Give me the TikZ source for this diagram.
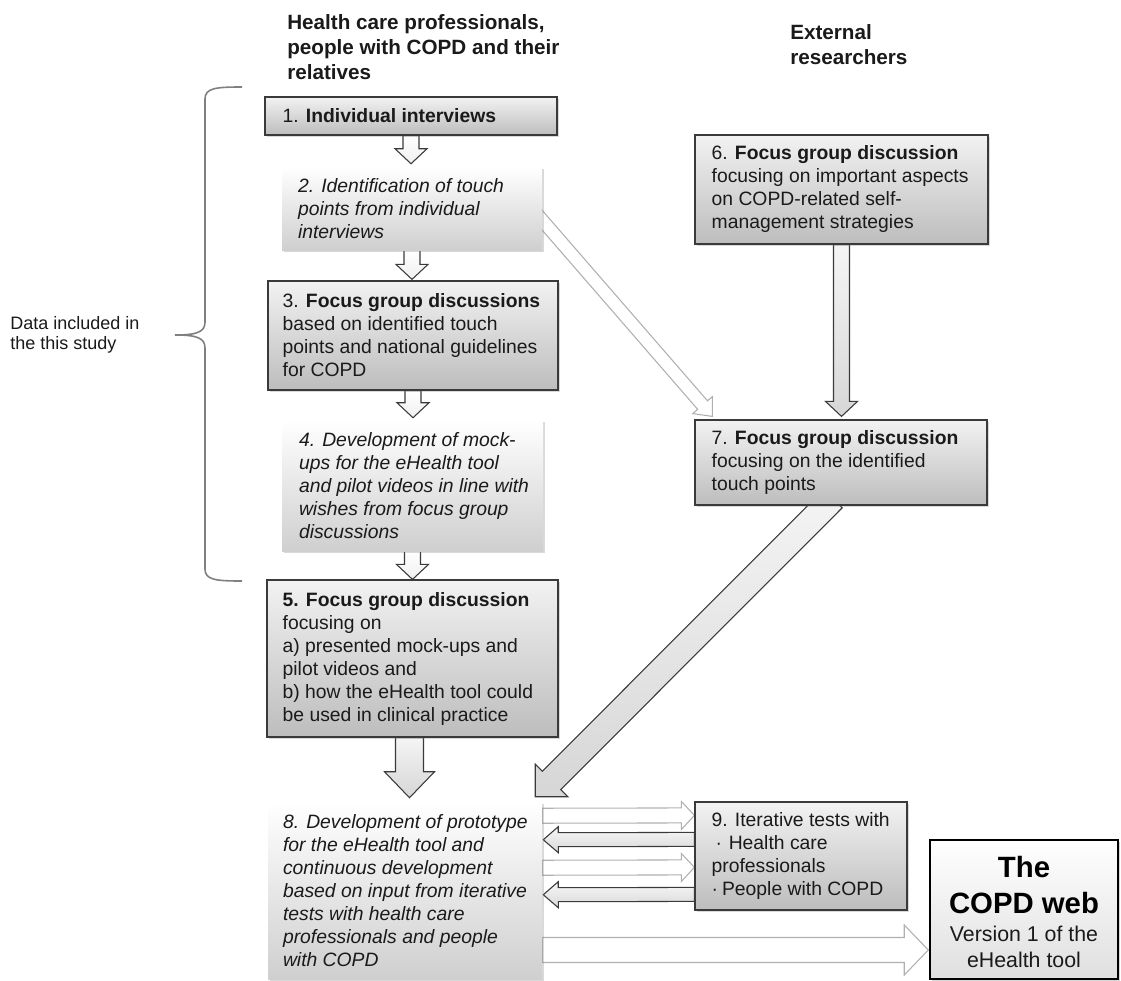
\documentclass[tikz,border=0pt]{standalone}
\usepackage{fontspec}
\setmainfont{Liberation Sans}
\usetikzlibrary{calc,shadows,backgrounds}
\definecolor{bxtop}{HTML}{F2F2F2}
\definecolor{bxbot}{HTML}{BDBDBD}
\definecolor{itbot}{HTML}{CFCFCF}
\definecolor{edgec}{HTML}{3A3A3A}
\definecolor{txtc}{HTML}{1A1A1A}
\definecolor{bracec}{HTML}{808080}
\definecolor{lightedge}{HTML}{B0B0B0}

\newcommand{\blockarrow}[6]{%
  \path[#1] let \p1=(#2), \p2=(#3),
    \n1={atan2(\y2-\y1,\x2-\x1)},
    \n2={veclen(\x2-\x1,\y2-\y1)},
    \n3={\n2-#6*0.75pt},
    \n4={#4*0.375pt},
    \n5={#5*0.375pt} in
    ($(\p1)+(\n1+90:\n4)$)
    -- ($(\p1)+(\n1+90:\n4)+(\n1:\n3)$)
    -- ($(\p1)+(\n1+90:\n5)+(\n1:\n3)$)
    -- (\p2)
    -- ($(\p1)+(\n1-90:\n5)+(\n1:\n3)$)
    -- ($(\p1)+(\n1-90:\n4)+(\n1:\n3)$)
    -- ($(\p1)+(\n1-90:\n4)$)
    -- cycle;
}

\begin{document}
\begin{tikzpicture}[x=0.75pt,y=-0.75pt,
  boxd/.style={draw=edgec, line width=0.9pt, top color=bxtop, bottom color=bxbot,
    drop shadow={shadow xshift=1.5pt, shadow yshift=-1.5pt, opacity=0.3}, inner sep=0pt},
  boxi/.style={top color=white, bottom color=itbot,
    drop shadow={shadow xshift=1.5pt, shadow yshift=-1.5pt, opacity=0.3}, inner sep=0pt},
  boxw/.style={draw=black, line width=1.1pt, top color=white, bottom color=gray!25,
    drop shadow={shadow xshift=1.5pt, shadow yshift=-1.5pt, opacity=0.3}, inner sep=0pt},
  txt/.style={align=left, inner sep=0pt, text=txtc, anchor=west, font=\fontsize{14.5}{17.25}\selectfont},
  itxt/.style={txt, font=\fontsize{14.5}{17.25}\selectfont\itshape},
  head/.style={align=left, inner sep=0pt, text=txtc, anchor=north west, font=\fontsize{15.5}{18.75}\selectfont\bfseries},
  sarr/.style={draw=edgec, line width=0.8pt, top color=white, bottom color=gray!12},
  marr/.style={draw=edgec, line width=0.8pt, top color=gray!8, bottom color=gray!32},
  darr/.style={draw=edgec, line width=0.8pt, top color=gray!6, bottom color=gray!30},
  larr/.style={draw=lightedge, line width=0.8pt, fill=white}
]
\useasboundingbox (0,0) rectangle (1121,981);

% headers
\node[head] (h1) at (287,14) {Health care professionals,\\people with COPD and their\\relatives};
\node[head] (h2) at (790,24) {External\\researchers};

% boxes
\node[boxd, minimum width=219pt,    minimum height=28.5pt]  (b1) at (411,116) {};
\node[boxi, minimum width=195pt,    minimum height=62.25pt] (b2) at (412,208.5) {};
\node[boxd, minimum width=217.5pt,  minimum height=81.75pt] (b3) at (413,335.5) {};
\node[boxi, minimum width=195.75pt, minimum height=98.25pt] (b4) at (412.5,485.5) {};
\node[boxd, minimum width=218.25pt, minimum height=117.75pt] (b5) at (412.5,658.5) {};
\node[boxd, minimum width=219.75pt, minimum height=81.75pt] (b6) at (841.5,189.5) {};
\node[boxd, minimum width=219pt,    minimum height=63.75pt] (b7) at (841,462.5) {};
\node[boxi, minimum width=205.5pt,  minimum height=132.75pt] (b8) at (405,890.5) {};
\node[boxd, minimum width=159pt,    minimum height=81pt]    (b9) at (801,856) {};
\node[boxw, minimum width=141pt,    minimum height=104.25pt] (web) at (1024,909.5) {};

% texts
\node[txt]  (t1) at ($(b1.west)+(18,0)$) {1. \textbf{Individual interviews}};
\node[itxt] (t2) at ($(b2.west)+(16,0)$) {2. Identification of touch\\points from individual\\interviews};
\node[txt]  (t3) at ($(b3.west)+(15,0)$) {3. \textbf{Focus group discussions}\\based on identified touch\\points and national guidelines\\for COPD};
\node[itxt] (t4) at ($(b4.west)+(17,0)$) {4. Development of mock-\\ups for the eHealth tool\\and pilot videos in line with\\wishes from focus group\\discussions};
\node[txt]  (t5) at ($(b5.west)+(16,0)$) {\textbf{5. Focus group discussion}\\focusing on\\a) presented mock-ups and\\pilot videos and\\b) how the eHealth tool could\\be used in clinical practice};
\node[txt]  (t6) at ($(b6.west)+(17,0)$) {6. \textbf{Focus group discussion}\\focusing on important aspects\\on COPD-related self-\\management strategies};
\node[txt]  (t7) at ($(b7.west)+(17,0)$) {7. \textbf{Focus group discussion}\\focusing on the identified\\touch points};
\node[itxt] (t8) at ($(b8.west)+(15,0)$) {8. Development of prototype\\for the eHealth tool and\\continuous development\\based on input from iterative\\tests with health care\\professionals and people\\with COPD};
\node[txt]  (t9) at ($(b9.west)+(17,0)$) {9. Iterative tests with\\\hspace{3pt}·\hspace{5pt}Health care\\professionals\\·\hspace{3pt}People with COPD};
\node[align=center, inner sep=0pt, text=black, font=\fontsize{22}{27}\selectfont\bfseries] (tw1) at ($(web.center)+(0,-24.5)$) {The\\COPD web};
\node[align=center, inner sep=0pt, text=txtc, font=\fontsize{16}{19.5}\selectfont] (tw2) at ($(web.center)+(0,37.5)$) {Version 1 of the\\eHealth tool};

% side label and brace
\node[align=left, inner sep=0pt, text=txtc, anchor=west, font=\fontsize{13.5}{15}\selectfont] (lab) at (10,335) {Data included in\\the this study};
\coordinate (brtip) at (175,335);
\draw[bracec, line width=1.2pt] (242,87) .. controls (216,87) and (205,88) .. (205,99) -- (205,322)
  .. controls (205,332) and (197,335) .. (brtip)
  .. controls (197,335) and (205,338) .. (205,348) -- (205,569)
  .. controls (205,580) and (216,581) .. (242,581);

% arrows
\begin{pgfonlayer}{background}
\blockarrow{sarr}{b1.south}{$(b1.south |- b2.north)+(0,-3)$}{16}{32}{15}
\blockarrow{sarr}{b2.south}{$(b2.south |- b3.north)+(0,-1)$}{16}{32}{15}
\blockarrow{sarr}{b3.south}{$(b3.south |- b4.north)+(0,-2)$}{16}{32}{15}
\blockarrow{sarr}{b4.south}{$(b4.south |- b5.north)+(0,0)$}{16}{32}{15}
\blockarrow{marr}{$(b5.south)+(-3,0)$}{$(b5.south |- b8.north)+(-3,-4)$}{28}{50}{26}
\blockarrow{marr}{b6.south}{$(b6.south |- b7.north)+(0,-3)$}{16}{32}{15}
\blockarrow{larr}{$(b2.east)+(-12,-2)$}{$(b7.north west)+(18,-3)$}{13}{26}{15}
\blockarrow{marr}{$(b7.south)+(-8,-7)$}{$(b8.north east)+(-7,-5)$}{26}{46}{23}
\blockarrow{larr}{$(b8.north east)+(0,14)$}{$(b9.north west)+(0,14)$}{15}{28}{13}
\blockarrow{darr}{$(b9.north west)+(0,38)$}{$(b8.north east)+(1,38)$}{14}{26}{15}
\blockarrow{larr}{$(b8.north east)+(0,66)$}{$(b9.north west)+(0,66)$}{15}{28}{13}
\blockarrow{darr}{$(b9.north west)+(0,93)$}{$(b8.north east)+(1,93)$}{14}{26}{15}
\blockarrow{larr}{$(b8.east)+(0,59.5)$}{$(web.west)+(-1,40.5)$}{25}{50}{24}
\end{pgfonlayer}
\end{tikzpicture}
\end{document}
